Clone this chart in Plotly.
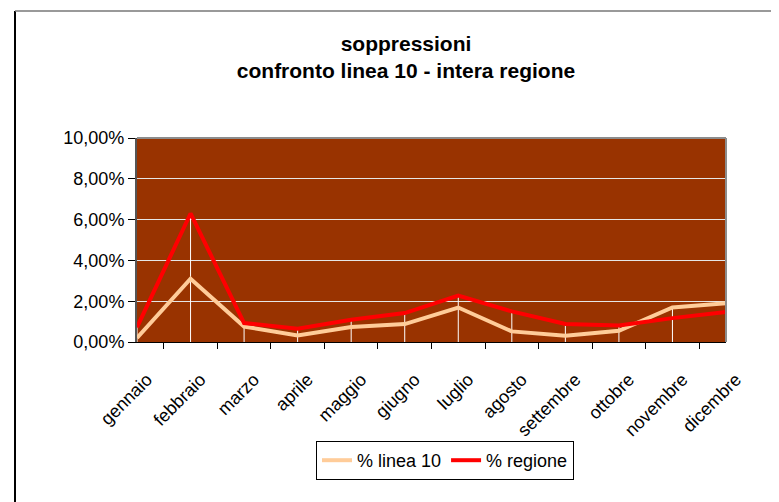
import plotly.graph_objects as go

# monthly cancellation rates (%)
months = ['gennaio', 'febbraio', 'marzo', 'aprile', 'maggio', 'giugno',
          'luglio', 'agosto', 'settembre', 'ottobre', 'novembre', 'dicembre']
linea_10 = [0.20, 3.10, 0.76, 0.32, 0.73, 0.88, 1.69, 0.52, 0.31, 0.55, 1.69, 1.90]
regione = [0.72, 6.30, 0.93, 0.65, 1.09, 1.42, 2.28, 1.50, 0.88, 0.81, 1.17, 1.47]

FONT = 'Liberation Sans, Arial, sans-serif'

# page has an 8px body margin, so the figure is drawn 8px in and shrunk to fit
OFF = 8
W, H = 779 - OFF, 502 - OFF
# plot area in window pixels
L, R, T, B = 137, 726, 138, 342

def px_x(x):
    return (x - L) / (R - L)

def px_y(y):
    return (B - y) / (B - T)

fig = go.Figure()

# excel style drop lines from the highest point down to the axis
drop_x, drop_y = [], []
for m, a, b in zip(months, linea_10, regione):
    drop_x += [m, m, None]
    drop_y += [0, max(a, b), None]
fig.add_trace(go.Scatter(x=drop_x, y=drop_y, mode='lines',
                         line=dict(color='white', width=1),
                         showlegend=False, hoverinfo='skip'))

fig.add_trace(go.Scatter(x=months, y=linea_10, mode='lines', name='% linea 10',
                         line=dict(color='#FFCC99', width=4)))
fig.add_trace(go.Scatter(x=months, y=regione, mode='lines', name='% regione',
                         line=dict(color='#FF0000', width=4)))

fig.update_layout(
    width=W, height=H,
    margin=dict(l=L - OFF, r=W - (R - OFF), t=T - OFF, b=H - (B - OFF)),
    paper_bgcolor='white',
    plot_bgcolor='#993300',
    separators=',.',
    font=dict(family=FONT, size=18, color='black'),
    title=dict(text='<b>soppressioni<br>confronto linea 10 - intera regione</b>',
               x=(406 - OFF) / W, xanchor='center', y=1 - 42.5 / H, yanchor='middle',
               font=dict(family=FONT, size=21, color='black')),
    showlegend=True,
    legend=dict(orientation='h', x=px_x(316), xanchor='left',
                y=px_y(441), yanchor='top',
                bordercolor='black', borderwidth=1, bgcolor='white',
                font=dict(family=FONT, size=18), tracegroupgap=0),
)

fig.update_xaxes(
    type='category', tickson='boundaries', ticks='outside', ticklen=6,
    tickcolor='black', tickangle=-45, showgrid=False,
    showline=True, linecolor='black', linewidth=1,
    ticklabelstandoff=19, ticklabelshift=10,
    tickfont=dict(family=FONT, size=18),
)
fig.update_yaxes(
    range=[0, 10], dtick=2, tickformat='.2f', ticksuffix='%',
    ticks='outside', ticklen=7, tickcolor='black',
    showgrid=True, gridcolor='#e6e6e6', gridwidth=1,
    showline=True, linecolor='#555555', linewidth=2,
    zeroline=False, tickfont=dict(family=FONT, size=18),
)

# grey top/right border of the plot area and the chart frame (left/top only)
fig.add_shape(type='line', xref='paper', yref='paper', x0=0, x1=1, y0=1, y1=1,
              line=dict(color='#8c8c8c', width=2), layer='above')
fig.add_shape(type='line', xref='paper', yref='paper', x0=1, x1=1, y0=0, y1=1,
              line=dict(color='#8c8c8c', width=2), layer='above')
fig.add_shape(type='line', xref='paper', yref='paper',
              x0=px_x(15), x1=px_x(15), y0=px_y(11), y1=px_y(510),
              line=dict(color='black', width=2), layer='above')
fig.add_shape(type='line', xref='paper', yref='paper',
              x0=px_x(15), x1=px_x(790), y0=px_y(11), y1=px_y(11),
              line=dict(color='#777777', width=1.5), layer='above')

fig.write_html("out.html")
